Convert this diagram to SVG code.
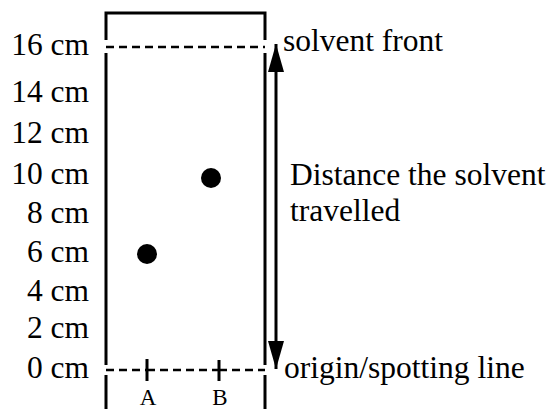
<svg xmlns="http://www.w3.org/2000/svg" width="553" height="409" viewBox="0 0 553 409">
<style>
text{font-family:"Liberation Serif","Times New Roman",serif;fill:#000}
.lbl{font-size:31.5px;text-anchor:end}
.side{font-size:31.5px}
.sm{font-size:23px;text-anchor:middle}
.edge{stroke:#000;stroke-width:3;fill:none}
.dash{stroke:#000;stroke-width:2.5;stroke-dasharray:8 5;fill:none}
</style>
<defs>
<marker id="ah" viewBox="0 0 28 16" refX="28" refY="8" markerWidth="28" markerHeight="16" markerUnits="userSpaceOnUse" orient="auto">
<path d="M0,0 L28,8 L0,16 Z" fill="#000"/>
</marker>
</defs>
<rect width="553" height="409" fill="#fff"/>
<g id="paper">
<path class="edge" d="M106,40 V13 H265 V40 M106,53 V365 M265,53 V365 M106,375 V409 M265,375 V409"/>
</g>
<g id="solvent-front-line">
<path class="dash" d="M106,47 H185 M185,47 H265"/>
</g>
<g id="origin-line">
<path class="dash" d="M106,370 H147 M147,370 H219 M219,370 H265"/>
<path class="edge" d="M147,359 V381 M219,360 V381"/>
<text class="sm" x="148" y="405">A</text>
<text class="sm" x="220" y="405">B</text>
</g>
<g id="spot-A"><circle cx="147" cy="254" r="10" fill="#000"/></g>
<g id="spot-B"><circle cx="211" cy="178" r="10" fill="#000"/></g>
<g id="scale">
<text class="lbl" x="89" y="55">16 cm</text>
<text class="lbl" x="89" y="102">14 cm</text>
<text class="lbl" x="89" y="143">12 cm</text>
<text class="lbl" x="89" y="184">10 cm</text>
<text class="lbl" x="89" y="223">8 cm</text>
<text class="lbl" x="89" y="262">6 cm</text>
<text class="lbl" x="89" y="301">4 cm</text>
<text class="lbl" x="89" y="338">2 cm</text>
<text class="lbl" x="89" y="378">0 cm</text>
</g>
<g id="connectors">
<line x1="276" y1="200" x2="276" y2="44" stroke="#000" stroke-width="3" marker-end="url(#ah)"/>
<line x1="276" y1="200" x2="276" y2="369" stroke="#000" stroke-width="3" marker-end="url(#ah)"/>
</g>
<g id="labels">
<text class="side" x="283" y="51">solvent front</text>
<text class="side" x="290" y="185">Distance the solvent</text>
<text class="side" x="290" y="221">travelled</text>
<text class="side" x="284" y="378">origin/spotting line</text>
</g>
</svg>
